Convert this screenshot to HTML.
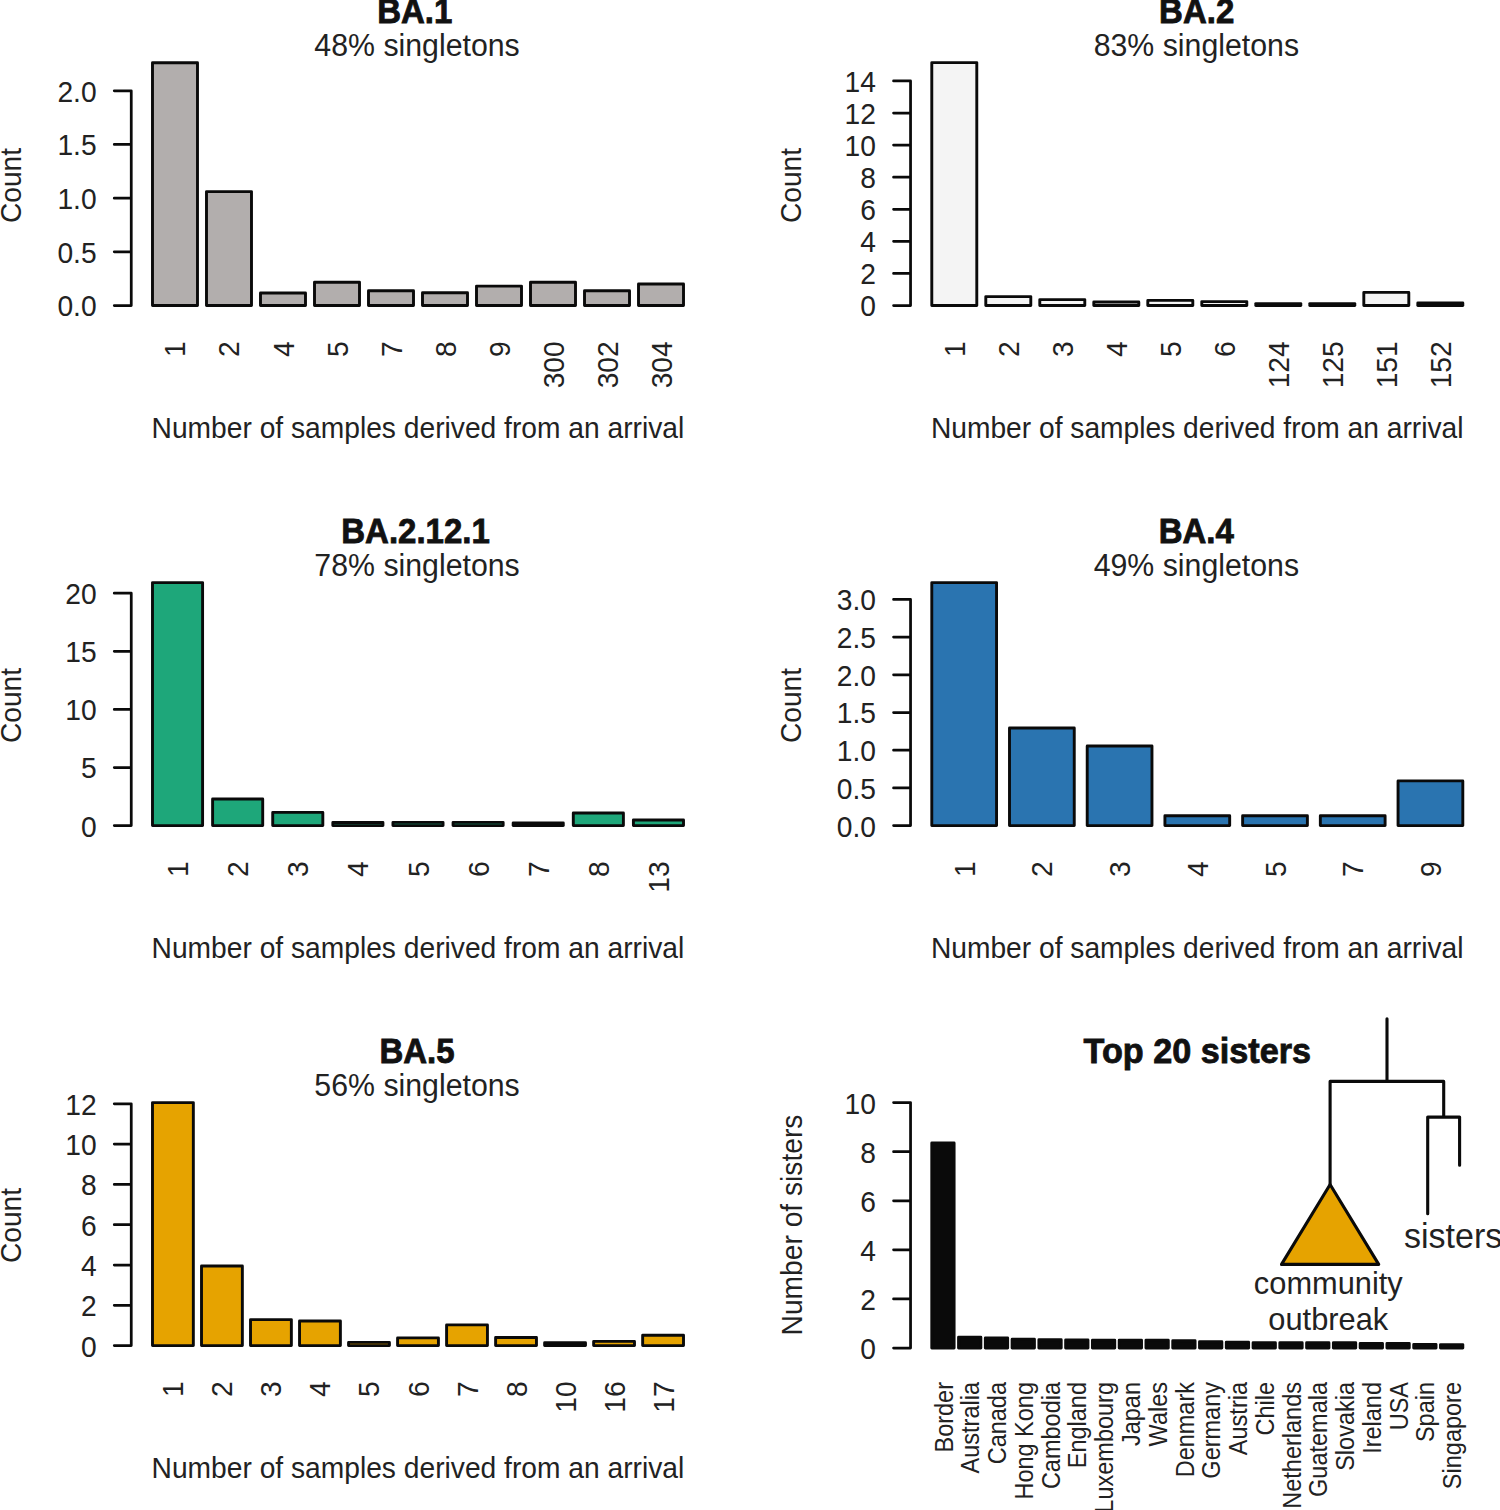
<!DOCTYPE html><html><head><meta charset="utf-8"><style>html,body{margin:0;padding:0;background:#fff;width:1500px;height:1510px;overflow:hidden}svg{display:block}</style></head><body>
<svg width="1500" height="1510" viewBox="0 0 1500 1510" font-family='"Liberation Sans", sans-serif' fill="#222222">
<text transform="translate(414.8 23.2) scale(1 1.065)" font-size="33" text-anchor="middle" font-weight="bold" fill="#111111" stroke="#111111" stroke-width="0.8">BA.1</text>
<text transform="translate(417.05 55.8) scale(1 1.045)" font-size="30.3" text-anchor="middle">48% singletons</text>
<path d="M131.25 305.5 V90.8 M131.25 305.5 H114.25 M131.25 251.82 H114.25 M131.25 198.15 H114.25 M131.25 144.48 H114.25 M131.25 90.8 H114.25" stroke="#0a0a0a" stroke-width="2.75" fill="none" stroke-linecap="round" stroke-linejoin="round"/>
<text transform="translate(96.6 316.4) scale(1 1.045)" font-size="28.2" text-anchor="end">0.0</text>
<text transform="translate(96.6 262.72) scale(1 1.045)" font-size="28.2" text-anchor="end">0.5</text>
<text transform="translate(96.6 209.05) scale(1 1.045)" font-size="28.2" text-anchor="end">1.0</text>
<text transform="translate(96.6 155.38) scale(1 1.045)" font-size="28.2" text-anchor="end">1.5</text>
<text transform="translate(96.6 101.7) scale(1 1.045)" font-size="28.2" text-anchor="end">2.0</text>
<rect x="152.49" y="62.7" width="45" height="242.8" fill="#b2aead" stroke="#0a0a0a" stroke-width="2.9" stroke-linejoin="round"/>
<rect x="206.49" y="191.6" width="45" height="113.9" fill="#b2aead" stroke="#0a0a0a" stroke-width="2.9" stroke-linejoin="round"/>
<rect x="260.49" y="293" width="45" height="12.5" fill="#b2aead" stroke="#0a0a0a" stroke-width="2.9" stroke-linejoin="round"/>
<rect x="314.5" y="282.2" width="45" height="23.3" fill="#b2aead" stroke="#0a0a0a" stroke-width="2.9" stroke-linejoin="round"/>
<rect x="368.5" y="290.8" width="45" height="14.7" fill="#b2aead" stroke="#0a0a0a" stroke-width="2.9" stroke-linejoin="round"/>
<rect x="422.5" y="292.7" width="45" height="12.8" fill="#b2aead" stroke="#0a0a0a" stroke-width="2.9" stroke-linejoin="round"/>
<rect x="476.5" y="286.1" width="45" height="19.4" fill="#b2aead" stroke="#0a0a0a" stroke-width="2.9" stroke-linejoin="round"/>
<rect x="530.5" y="282.2" width="45" height="23.3" fill="#b2aead" stroke="#0a0a0a" stroke-width="2.9" stroke-linejoin="round"/>
<rect x="584.51" y="290.8" width="45" height="14.7" fill="#b2aead" stroke="#0a0a0a" stroke-width="2.9" stroke-linejoin="round"/>
<rect x="638.51" y="284" width="45" height="21.5" fill="#b2aead" stroke="#0a0a0a" stroke-width="2.9" stroke-linejoin="round"/>
<text transform="translate(185.49 341.3) rotate(-90) scale(1 1.045)" font-size="28.2" text-anchor="end">1</text>
<text transform="translate(239.49 341.3) rotate(-90) scale(1 1.045)" font-size="28.2" text-anchor="end">2</text>
<text transform="translate(293.5 341.3) rotate(-90) scale(1 1.045)" font-size="28.2" text-anchor="end">4</text>
<text transform="translate(347.5 341.3) rotate(-90) scale(1 1.045)" font-size="28.2" text-anchor="end">5</text>
<text transform="translate(401.5 341.3) rotate(-90) scale(1 1.045)" font-size="28.2" text-anchor="end">7</text>
<text transform="translate(455.5 341.3) rotate(-90) scale(1 1.045)" font-size="28.2" text-anchor="end">8</text>
<text transform="translate(509.5 341.3) rotate(-90) scale(1 1.045)" font-size="28.2" text-anchor="end">9</text>
<text transform="translate(563.5 341.3) rotate(-90) scale(1 1.045)" font-size="28.2" text-anchor="end">300</text>
<text transform="translate(617.51 341.3) rotate(-90) scale(1 1.045)" font-size="28.2" text-anchor="end">302</text>
<text transform="translate(671.51 341.3) rotate(-90) scale(1 1.045)" font-size="28.2" text-anchor="end">304</text>
<text transform="translate(417.9 438.4) scale(1 1.045)" font-size="28.2" text-anchor="middle">Number of samples derived from an arrival</text>
<text transform="translate(21.2 185.5) rotate(-90) scale(1 1.045)" font-size="28.2" text-anchor="middle">Count</text>
<text transform="translate(1196.7 23.2) scale(1 1.065)" font-size="33" text-anchor="middle" font-weight="bold" fill="#111111" stroke="#111111" stroke-width="0.8">BA.2</text>
<text transform="translate(1196.35 55.8) scale(1 1.045)" font-size="30.3" text-anchor="middle">83% singletons</text>
<path d="M910.55 305.5 V80.94 M910.55 305.5 H893.55 M910.55 273.42 H893.55 M910.55 241.34 H893.55 M910.55 209.26 H893.55 M910.55 177.18 H893.55 M910.55 145.1 H893.55 M910.55 113.02 H893.55 M910.55 80.94 H893.55" stroke="#0a0a0a" stroke-width="2.75" fill="none" stroke-linecap="round" stroke-linejoin="round"/>
<text transform="translate(875.9 316.4) scale(1 1.045)" font-size="28.2" text-anchor="end">0</text>
<text transform="translate(875.9 284.32) scale(1 1.045)" font-size="28.2" text-anchor="end">2</text>
<text transform="translate(875.9 252.24) scale(1 1.045)" font-size="28.2" text-anchor="end">4</text>
<text transform="translate(875.9 220.16) scale(1 1.045)" font-size="28.2" text-anchor="end">6</text>
<text transform="translate(875.9 188.08) scale(1 1.045)" font-size="28.2" text-anchor="end">8</text>
<text transform="translate(875.9 156) scale(1 1.045)" font-size="28.2" text-anchor="end">10</text>
<text transform="translate(875.9 123.92) scale(1 1.045)" font-size="28.2" text-anchor="end">12</text>
<text transform="translate(875.9 91.84) scale(1 1.045)" font-size="28.2" text-anchor="end">14</text>
<rect x="931.79" y="62.6" width="45" height="242.9" fill="#f4f4f4" stroke="#0a0a0a" stroke-width="2.9" stroke-linejoin="round"/>
<rect x="985.79" y="296.6" width="45" height="8.9" fill="#f4f4f4" stroke="#0a0a0a" stroke-width="2.9" stroke-linejoin="round"/>
<rect x="1039.79" y="299.6" width="45" height="5.9" fill="#f4f4f4" stroke="#0a0a0a" stroke-width="2.9" stroke-linejoin="round"/>
<rect x="1093.8" y="302" width="45" height="3.5" fill="#f4f4f4" stroke="#0a0a0a" stroke-width="2.9" stroke-linejoin="round"/>
<rect x="1147.8" y="300.4" width="45" height="5.1" fill="#f4f4f4" stroke="#0a0a0a" stroke-width="2.9" stroke-linejoin="round"/>
<rect x="1201.8" y="301.6" width="45" height="3.9" fill="#f4f4f4" stroke="#0a0a0a" stroke-width="2.9" stroke-linejoin="round"/>
<rect x="1255.8" y="303.6" width="45" height="1.9" fill="#f4f4f4" stroke="#0a0a0a" stroke-width="2.9" stroke-linejoin="round"/>
<rect x="1309.8" y="303.6" width="45" height="1.9" fill="#f4f4f4" stroke="#0a0a0a" stroke-width="2.9" stroke-linejoin="round"/>
<rect x="1363.81" y="292.4" width="45" height="13.1" fill="#f4f4f4" stroke="#0a0a0a" stroke-width="2.9" stroke-linejoin="round"/>
<rect x="1417.81" y="303" width="45" height="2.5" fill="#f4f4f4" stroke="#0a0a0a" stroke-width="2.9" stroke-linejoin="round"/>
<text transform="translate(964.79 341.3) rotate(-90) scale(1 1.045)" font-size="28.2" text-anchor="end">1</text>
<text transform="translate(1018.79 341.3) rotate(-90) scale(1 1.045)" font-size="28.2" text-anchor="end">2</text>
<text transform="translate(1072.8 341.3) rotate(-90) scale(1 1.045)" font-size="28.2" text-anchor="end">3</text>
<text transform="translate(1126.8 341.3) rotate(-90) scale(1 1.045)" font-size="28.2" text-anchor="end">4</text>
<text transform="translate(1180.8 341.3) rotate(-90) scale(1 1.045)" font-size="28.2" text-anchor="end">5</text>
<text transform="translate(1234.8 341.3) rotate(-90) scale(1 1.045)" font-size="28.2" text-anchor="end">6</text>
<text transform="translate(1288.8 341.3) rotate(-90) scale(1 1.045)" font-size="28.2" text-anchor="end">124</text>
<text transform="translate(1342.8 341.3) rotate(-90) scale(1 1.045)" font-size="28.2" text-anchor="end">125</text>
<text transform="translate(1396.81 341.3) rotate(-90) scale(1 1.045)" font-size="28.2" text-anchor="end">151</text>
<text transform="translate(1450.81 341.3) rotate(-90) scale(1 1.045)" font-size="28.2" text-anchor="end">152</text>
<text transform="translate(1197.2 438.4) scale(1 1.045)" font-size="28.2" text-anchor="middle">Number of samples derived from an arrival</text>
<text transform="translate(800.5 185.5) rotate(-90) scale(1 1.045)" font-size="28.2" text-anchor="middle">Count</text>
<text transform="translate(415.5 543.2) scale(1 1.065)" font-size="33" text-anchor="middle" font-weight="bold" fill="#111111" stroke="#111111" stroke-width="0.8">BA.2.12.1</text>
<text transform="translate(417.05 575.8) scale(1 1.045)" font-size="30.3" text-anchor="middle">78% singletons</text>
<path d="M131.25 825.6 V593.2 M131.25 825.6 H114.25 M131.25 767.5 H114.25 M131.25 709.4 H114.25 M131.25 651.3 H114.25 M131.25 593.2 H114.25" stroke="#0a0a0a" stroke-width="2.75" fill="none" stroke-linecap="round" stroke-linejoin="round"/>
<text transform="translate(96.6 836.5) scale(1 1.045)" font-size="28.2" text-anchor="end">0</text>
<text transform="translate(96.6 778.4) scale(1 1.045)" font-size="28.2" text-anchor="end">5</text>
<text transform="translate(96.6 720.3) scale(1 1.045)" font-size="28.2" text-anchor="end">10</text>
<text transform="translate(96.6 662.2) scale(1 1.045)" font-size="28.2" text-anchor="end">15</text>
<text transform="translate(96.6 604.1) scale(1 1.045)" font-size="28.2" text-anchor="end">20</text>
<rect x="152.49" y="582.6" width="50.1" height="243" fill="#1ea77a" stroke="#0a0a0a" stroke-width="2.9" stroke-linejoin="round"/>
<rect x="212.61" y="799" width="50.1" height="26.6" fill="#1ea77a" stroke="#0a0a0a" stroke-width="2.9" stroke-linejoin="round"/>
<rect x="272.72" y="812.4" width="50.1" height="13.2" fill="#1ea77a" stroke="#0a0a0a" stroke-width="2.9" stroke-linejoin="round"/>
<rect x="332.84" y="822.5" width="50.1" height="3.1" fill="#1ea77a" stroke="#0a0a0a" stroke-width="2.9" stroke-linejoin="round"/>
<rect x="392.95" y="822.4" width="50.1" height="3.2" fill="#1ea77a" stroke="#0a0a0a" stroke-width="2.9" stroke-linejoin="round"/>
<rect x="453.07" y="822.4" width="50.1" height="3.2" fill="#1ea77a" stroke="#0a0a0a" stroke-width="2.9" stroke-linejoin="round"/>
<rect x="513.18" y="823" width="50.1" height="2.6" fill="#1ea77a" stroke="#0a0a0a" stroke-width="2.9" stroke-linejoin="round"/>
<rect x="573.3" y="813" width="50.1" height="12.6" fill="#1ea77a" stroke="#0a0a0a" stroke-width="2.9" stroke-linejoin="round"/>
<rect x="633.41" y="820" width="50.1" height="5.6" fill="#1ea77a" stroke="#0a0a0a" stroke-width="2.9" stroke-linejoin="round"/>
<text transform="translate(188.04 861.3) rotate(-90) scale(1 1.045)" font-size="28.2" text-anchor="end">1</text>
<text transform="translate(248.15 861.3) rotate(-90) scale(1 1.045)" font-size="28.2" text-anchor="end">2</text>
<text transform="translate(308.27 861.3) rotate(-90) scale(1 1.045)" font-size="28.2" text-anchor="end">3</text>
<text transform="translate(368.38 861.3) rotate(-90) scale(1 1.045)" font-size="28.2" text-anchor="end">4</text>
<text transform="translate(428.5 861.3) rotate(-90) scale(1 1.045)" font-size="28.2" text-anchor="end">5</text>
<text transform="translate(488.62 861.3) rotate(-90) scale(1 1.045)" font-size="28.2" text-anchor="end">6</text>
<text transform="translate(548.73 861.3) rotate(-90) scale(1 1.045)" font-size="28.2" text-anchor="end">7</text>
<text transform="translate(608.85 861.3) rotate(-90) scale(1 1.045)" font-size="28.2" text-anchor="end">8</text>
<text transform="translate(668.96 861.3) rotate(-90) scale(1 1.045)" font-size="28.2" text-anchor="end">13</text>
<text transform="translate(417.9 958.4) scale(1 1.045)" font-size="28.2" text-anchor="middle">Number of samples derived from an arrival</text>
<text transform="translate(21.2 705.5) rotate(-90) scale(1 1.045)" font-size="28.2" text-anchor="middle">Count</text>
<text transform="translate(1196.3 543.2) scale(1 1.065)" font-size="33" text-anchor="middle" font-weight="bold" fill="#111111" stroke="#111111" stroke-width="0.8">BA.4</text>
<text transform="translate(1196.35 575.8) scale(1 1.045)" font-size="30.3" text-anchor="middle">49% singletons</text>
<path d="M910.55 825.6 V599.4 M910.55 825.6 H893.55 M910.55 787.9 H893.55 M910.55 750.2 H893.55 M910.55 712.5 H893.55 M910.55 674.8 H893.55 M910.55 637.1 H893.55 M910.55 599.4 H893.55" stroke="#0a0a0a" stroke-width="2.75" fill="none" stroke-linecap="round" stroke-linejoin="round"/>
<text transform="translate(875.9 836.5) scale(1 1.045)" font-size="28.2" text-anchor="end">0.0</text>
<text transform="translate(875.9 798.8) scale(1 1.045)" font-size="28.2" text-anchor="end">0.5</text>
<text transform="translate(875.9 761.1) scale(1 1.045)" font-size="28.2" text-anchor="end">1.0</text>
<text transform="translate(875.9 723.4) scale(1 1.045)" font-size="28.2" text-anchor="end">1.5</text>
<text transform="translate(875.9 685.7) scale(1 1.045)" font-size="28.2" text-anchor="end">2.0</text>
<text transform="translate(875.9 648) scale(1 1.045)" font-size="28.2" text-anchor="end">2.5</text>
<text transform="translate(875.9 610.3) scale(1 1.045)" font-size="28.2" text-anchor="end">3.0</text>
<rect x="931.79" y="582.6" width="64.76" height="243" fill="#2a74b0" stroke="#0a0a0a" stroke-width="2.9" stroke-linejoin="round"/>
<rect x="1009.5" y="728" width="64.76" height="97.6" fill="#2a74b0" stroke="#0a0a0a" stroke-width="2.9" stroke-linejoin="round"/>
<rect x="1087.21" y="746" width="64.76" height="79.6" fill="#2a74b0" stroke="#0a0a0a" stroke-width="2.9" stroke-linejoin="round"/>
<rect x="1164.92" y="815.7" width="64.76" height="9.9" fill="#2a74b0" stroke="#0a0a0a" stroke-width="2.9" stroke-linejoin="round"/>
<rect x="1242.63" y="815.7" width="64.76" height="9.9" fill="#2a74b0" stroke="#0a0a0a" stroke-width="2.9" stroke-linejoin="round"/>
<rect x="1320.34" y="815.7" width="64.76" height="9.9" fill="#2a74b0" stroke="#0a0a0a" stroke-width="2.9" stroke-linejoin="round"/>
<rect x="1398.05" y="780.9" width="64.76" height="44.7" fill="#2a74b0" stroke="#0a0a0a" stroke-width="2.9" stroke-linejoin="round"/>
<text transform="translate(974.67 861.3) rotate(-90) scale(1 1.045)" font-size="28.2" text-anchor="end">1</text>
<text transform="translate(1052.38 861.3) rotate(-90) scale(1 1.045)" font-size="28.2" text-anchor="end">2</text>
<text transform="translate(1130.09 861.3) rotate(-90) scale(1 1.045)" font-size="28.2" text-anchor="end">3</text>
<text transform="translate(1207.8 861.3) rotate(-90) scale(1 1.045)" font-size="28.2" text-anchor="end">4</text>
<text transform="translate(1285.51 861.3) rotate(-90) scale(1 1.045)" font-size="28.2" text-anchor="end">5</text>
<text transform="translate(1363.22 861.3) rotate(-90) scale(1 1.045)" font-size="28.2" text-anchor="end">7</text>
<text transform="translate(1440.93 861.3) rotate(-90) scale(1 1.045)" font-size="28.2" text-anchor="end">9</text>
<text transform="translate(1197.2 958.4) scale(1 1.045)" font-size="28.2" text-anchor="middle">Number of samples derived from an arrival</text>
<text transform="translate(800.5 705.5) rotate(-90) scale(1 1.045)" font-size="28.2" text-anchor="middle">Count</text>
<text transform="translate(417 1063.2) scale(1 1.065)" font-size="33" text-anchor="middle" font-weight="bold" fill="#111111" stroke="#111111" stroke-width="0.8">BA.5</text>
<text transform="translate(417.05 1095.8) scale(1 1.045)" font-size="30.3" text-anchor="middle">56% singletons</text>
<path d="M131.25 1345.6 V1103.8 M131.25 1345.6 H114.25 M131.25 1305.3 H114.25 M131.25 1265 H114.25 M131.25 1224.7 H114.25 M131.25 1184.4 H114.25 M131.25 1144.1 H114.25 M131.25 1103.8 H114.25" stroke="#0a0a0a" stroke-width="2.75" fill="none" stroke-linecap="round" stroke-linejoin="round"/>
<text transform="translate(96.6 1356.5) scale(1 1.045)" font-size="28.2" text-anchor="end">0</text>
<text transform="translate(96.6 1316.2) scale(1 1.045)" font-size="28.2" text-anchor="end">2</text>
<text transform="translate(96.6 1275.9) scale(1 1.045)" font-size="28.2" text-anchor="end">4</text>
<text transform="translate(96.6 1235.6) scale(1 1.045)" font-size="28.2" text-anchor="end">6</text>
<text transform="translate(96.6 1195.3) scale(1 1.045)" font-size="28.2" text-anchor="end">8</text>
<text transform="translate(96.6 1155) scale(1 1.045)" font-size="28.2" text-anchor="end">10</text>
<text transform="translate(96.6 1114.7) scale(1 1.045)" font-size="28.2" text-anchor="end">12</text>
<rect x="152.49" y="1102.6" width="40.85" height="243" fill="#e6a300" stroke="#0a0a0a" stroke-width="2.9" stroke-linejoin="round"/>
<rect x="201.51" y="1266" width="40.85" height="79.6" fill="#e6a300" stroke="#0a0a0a" stroke-width="2.9" stroke-linejoin="round"/>
<rect x="250.52" y="1319.6" width="40.85" height="26" fill="#e6a300" stroke="#0a0a0a" stroke-width="2.9" stroke-linejoin="round"/>
<rect x="299.54" y="1321" width="40.85" height="24.6" fill="#e6a300" stroke="#0a0a0a" stroke-width="2.9" stroke-linejoin="round"/>
<rect x="348.56" y="1342.4" width="40.85" height="3.2" fill="#e6a300" stroke="#0a0a0a" stroke-width="2.9" stroke-linejoin="round"/>
<rect x="397.58" y="1337.9" width="40.85" height="7.7" fill="#e6a300" stroke="#0a0a0a" stroke-width="2.9" stroke-linejoin="round"/>
<rect x="446.59" y="1324.9" width="40.85" height="20.7" fill="#e6a300" stroke="#0a0a0a" stroke-width="2.9" stroke-linejoin="round"/>
<rect x="495.61" y="1337.5" width="40.85" height="8.1" fill="#e6a300" stroke="#0a0a0a" stroke-width="2.9" stroke-linejoin="round"/>
<rect x="544.63" y="1342.7" width="40.85" height="2.9" fill="#e6a300" stroke="#0a0a0a" stroke-width="2.9" stroke-linejoin="round"/>
<rect x="593.64" y="1341.4" width="40.85" height="4.2" fill="#e6a300" stroke="#0a0a0a" stroke-width="2.9" stroke-linejoin="round"/>
<rect x="642.66" y="1335.2" width="40.85" height="10.4" fill="#e6a300" stroke="#0a0a0a" stroke-width="2.9" stroke-linejoin="round"/>
<text transform="translate(183.41 1381.3) rotate(-90) scale(1 1.045)" font-size="28.2" text-anchor="end">1</text>
<text transform="translate(232.43 1381.3) rotate(-90) scale(1 1.045)" font-size="28.2" text-anchor="end">2</text>
<text transform="translate(281.45 1381.3) rotate(-90) scale(1 1.045)" font-size="28.2" text-anchor="end">3</text>
<text transform="translate(330.47 1381.3) rotate(-90) scale(1 1.045)" font-size="28.2" text-anchor="end">4</text>
<text transform="translate(379.48 1381.3) rotate(-90) scale(1 1.045)" font-size="28.2" text-anchor="end">5</text>
<text transform="translate(428.5 1381.3) rotate(-90) scale(1 1.045)" font-size="28.2" text-anchor="end">6</text>
<text transform="translate(477.52 1381.3) rotate(-90) scale(1 1.045)" font-size="28.2" text-anchor="end">7</text>
<text transform="translate(526.53 1381.3) rotate(-90) scale(1 1.045)" font-size="28.2" text-anchor="end">8</text>
<text transform="translate(575.55 1381.3) rotate(-90) scale(1 1.045)" font-size="28.2" text-anchor="end">10</text>
<text transform="translate(624.57 1381.3) rotate(-90) scale(1 1.045)" font-size="28.2" text-anchor="end">16</text>
<text transform="translate(673.59 1381.3) rotate(-90) scale(1 1.045)" font-size="28.2" text-anchor="end">17</text>
<text transform="translate(417.9 1478.4) scale(1 1.045)" font-size="28.2" text-anchor="middle">Number of samples derived from an arrival</text>
<text transform="translate(21.2 1225.5) rotate(-90) scale(1 1.045)" font-size="28.2" text-anchor="middle">Count</text>
<text transform="translate(1197.3 1063.3) scale(1 1.02)" font-size="34.2" text-anchor="middle" font-weight="bold" fill="#111111" stroke="#111111" stroke-width="0.8">Top 20 sisters</text>
<path d="M910.55 1348 V1102.6 M910.55 1348 H893.55 M910.55 1298.92 H893.55 M910.55 1249.84 H893.55 M910.55 1200.76 H893.55 M910.55 1151.68 H893.55 M910.55 1102.6 H893.55" stroke="#0a0a0a" stroke-width="2.75" fill="none" stroke-linecap="round" stroke-linejoin="round"/>
<text transform="translate(875.9 1358.9) scale(1 1.045)" font-size="28.2" text-anchor="end">0</text>
<text transform="translate(875.9 1309.82) scale(1 1.045)" font-size="28.2" text-anchor="end">2</text>
<text transform="translate(875.9 1260.74) scale(1 1.045)" font-size="28.2" text-anchor="end">4</text>
<text transform="translate(875.9 1211.66) scale(1 1.045)" font-size="28.2" text-anchor="end">6</text>
<text transform="translate(875.9 1162.58) scale(1 1.045)" font-size="28.2" text-anchor="end">8</text>
<text transform="translate(875.9 1113.5) scale(1 1.045)" font-size="28.2" text-anchor="end">10</text>
<rect x="931.79" y="1143" width="22.31" height="205" fill="#0a0a0a" stroke="#0a0a0a" stroke-width="2.9" stroke-linejoin="round"/>
<rect x="958.56" y="1337.3" width="22.31" height="10.7" fill="#0a0a0a" stroke="#0a0a0a" stroke-width="2.9" stroke-linejoin="round"/>
<rect x="985.34" y="1337.9" width="22.31" height="10.1" fill="#0a0a0a" stroke="#0a0a0a" stroke-width="2.9" stroke-linejoin="round"/>
<rect x="1012.11" y="1339.3" width="22.31" height="8.7" fill="#0a0a0a" stroke="#0a0a0a" stroke-width="2.9" stroke-linejoin="round"/>
<rect x="1038.89" y="1339.7" width="22.31" height="8.3" fill="#0a0a0a" stroke="#0a0a0a" stroke-width="2.9" stroke-linejoin="round"/>
<rect x="1065.66" y="1339.9" width="22.31" height="8.1" fill="#0a0a0a" stroke="#0a0a0a" stroke-width="2.9" stroke-linejoin="round"/>
<rect x="1092.43" y="1340.3" width="22.31" height="7.7" fill="#0a0a0a" stroke="#0a0a0a" stroke-width="2.9" stroke-linejoin="round"/>
<rect x="1119.21" y="1340.3" width="22.31" height="7.7" fill="#0a0a0a" stroke="#0a0a0a" stroke-width="2.9" stroke-linejoin="round"/>
<rect x="1145.98" y="1340.3" width="22.31" height="7.7" fill="#0a0a0a" stroke="#0a0a0a" stroke-width="2.9" stroke-linejoin="round"/>
<rect x="1172.76" y="1340.7" width="22.31" height="7.3" fill="#0a0a0a" stroke="#0a0a0a" stroke-width="2.9" stroke-linejoin="round"/>
<rect x="1199.53" y="1341.8" width="22.31" height="6.2" fill="#0a0a0a" stroke="#0a0a0a" stroke-width="2.9" stroke-linejoin="round"/>
<rect x="1226.31" y="1342.3" width="22.31" height="5.7" fill="#0a0a0a" stroke="#0a0a0a" stroke-width="2.9" stroke-linejoin="round"/>
<rect x="1253.08" y="1342.8" width="22.31" height="5.2" fill="#0a0a0a" stroke="#0a0a0a" stroke-width="2.9" stroke-linejoin="round"/>
<rect x="1279.85" y="1342.8" width="22.31" height="5.2" fill="#0a0a0a" stroke="#0a0a0a" stroke-width="2.9" stroke-linejoin="round"/>
<rect x="1306.63" y="1342.8" width="22.31" height="5.2" fill="#0a0a0a" stroke="#0a0a0a" stroke-width="2.9" stroke-linejoin="round"/>
<rect x="1333.4" y="1342.8" width="22.31" height="5.2" fill="#0a0a0a" stroke="#0a0a0a" stroke-width="2.9" stroke-linejoin="round"/>
<rect x="1360.18" y="1343.4" width="22.31" height="4.6" fill="#0a0a0a" stroke="#0a0a0a" stroke-width="2.9" stroke-linejoin="round"/>
<rect x="1386.95" y="1343.4" width="22.31" height="4.6" fill="#0a0a0a" stroke="#0a0a0a" stroke-width="2.9" stroke-linejoin="round"/>
<rect x="1413.72" y="1344.4" width="22.31" height="3.6" fill="#0a0a0a" stroke="#0a0a0a" stroke-width="2.9" stroke-linejoin="round"/>
<rect x="1440.5" y="1344.6" width="22.31" height="3.4" fill="#0a0a0a" stroke="#0a0a0a" stroke-width="2.9" stroke-linejoin="round"/>
<text transform="translate(952.55 1382) rotate(-90) scale(1 1.067)" font-size="23.5" text-anchor="end">Border</text>
<text transform="translate(979.32 1382) rotate(-90) scale(1 1.067)" font-size="23.5" text-anchor="end">Australia</text>
<text transform="translate(1006.09 1382) rotate(-90) scale(1 1.067)" font-size="23.5" text-anchor="end">Canada</text>
<text transform="translate(1032.87 1382) rotate(-90) scale(1 1.067)" font-size="23.5" text-anchor="end">Hong Kong</text>
<text transform="translate(1059.64 1382) rotate(-90) scale(1 1.067)" font-size="23.5" text-anchor="end">Cambodia</text>
<text transform="translate(1086.42 1382) rotate(-90) scale(1 1.067)" font-size="23.5" text-anchor="end">England</text>
<text transform="translate(1113.19 1382) rotate(-90) scale(1 1.067)" font-size="23.5" text-anchor="end">Luxembourg</text>
<text transform="translate(1139.96 1382) rotate(-90) scale(1 1.067)" font-size="23.5" text-anchor="end">Japan</text>
<text transform="translate(1166.74 1382) rotate(-90) scale(1 1.067)" font-size="23.5" text-anchor="end">Wales</text>
<text transform="translate(1193.51 1382) rotate(-90) scale(1 1.067)" font-size="23.5" text-anchor="end">Denmark</text>
<text transform="translate(1220.29 1382) rotate(-90) scale(1 1.067)" font-size="23.5" text-anchor="end">Germany</text>
<text transform="translate(1247.06 1382) rotate(-90) scale(1 1.067)" font-size="23.5" text-anchor="end">Austria</text>
<text transform="translate(1273.84 1382) rotate(-90) scale(1 1.067)" font-size="23.5" text-anchor="end">Chile</text>
<text transform="translate(1300.61 1382) rotate(-90) scale(1 1.067)" font-size="23.5" text-anchor="end">Netherlands</text>
<text transform="translate(1327.38 1382) rotate(-90) scale(1 1.067)" font-size="23.5" text-anchor="end">Guatemala</text>
<text transform="translate(1354.16 1382) rotate(-90) scale(1 1.067)" font-size="23.5" text-anchor="end">Slovakia</text>
<text transform="translate(1380.93 1382) rotate(-90) scale(1 1.067)" font-size="23.5" text-anchor="end">Ireland</text>
<text transform="translate(1407.71 1382) rotate(-90) scale(1 1.067)" font-size="23.5" text-anchor="end">USA</text>
<text transform="translate(1434.48 1382) rotate(-90) scale(1 1.067)" font-size="23.5" text-anchor="end">Spain</text>
<text transform="translate(1461.25 1382) rotate(-90) scale(1 1.067)" font-size="23.5" text-anchor="end">Singapore</text>
<text transform="translate(801.5 1225) rotate(-90) scale(1 1.045)" font-size="28.2" text-anchor="middle">Number of sisters</text>
<path d="M1387 1018.7 V1081.4 M1330.1 1081.4 H1443.7 M1330.1 1081.4 V1184.5 M1443.7 1081.4 V1117.1 M1427.7 1117.1 H1459.6 M1427.7 1117.1 V1213.7 M1459.6 1117.1 V1165.2" stroke="#0a0a0a" stroke-width="3.1" fill="none" stroke-linecap="round" stroke-linejoin="round"/>
<path d="M1330.1 1184.5 L1378.7 1264.4 L1281.5 1264.4 Z" fill="#e6a300" stroke="#0a0a0a" stroke-width="3.1" stroke-linejoin="round"/>
<text transform="translate(1328.3 1293.5) scale(1 1.045)" font-size="30.8" text-anchor="middle">community</text>
<text transform="translate(1328.3 1329.9) scale(1 1.045)" font-size="30.8" text-anchor="middle">outbreak</text>
<text transform="translate(1404 1248.1) scale(1 1.045)" font-size="34" text-anchor="start">sisters</text>
</svg></body></html>
